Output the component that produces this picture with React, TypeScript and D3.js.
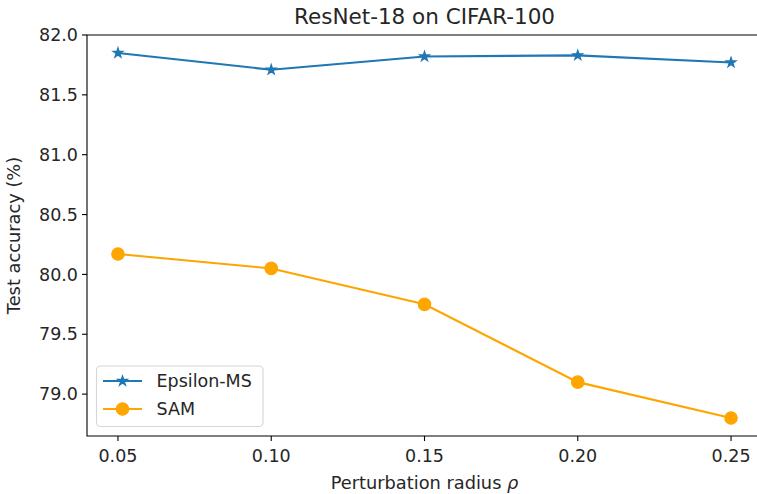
import React from 'react';
import * as d3 from 'd3';

const radii = [0.05, 0.1, 0.15, 0.2, 0.25];
const epsilonMS = [81.85, 81.71, 81.82, 81.83, 81.77];
const sam = [80.17, 80.05, 79.75, 79.1, 78.8];
const xTicks = [0.05, 0.1, 0.15, 0.2, 0.25];
const yTicks = [79.0, 79.5, 80.0, 80.5, 81.0, 81.5, 82.0];

const W = 757;
const H = 494;
const left = 87;
const right = 762;
const top = 35;
const bottom = 436;
const FONT = "'DejaVu Sans', sans-serif";
const BLUE = '#1f77b4';
const ORANGE = '#ffa500';

export default function App() {
  const x = d3.scaleLinear().domain([0.0399, 0.2601]).range([left, right]);
  const y = d3.scaleLinear().domain([78.65, 82.0]).range([bottom, top]);

  const line = d3.line<number>()
    .x((_, i) => x(radii[i]))
    .y(d => y(d));

  const star = d3.symbol().type(d3.symbolStar).size(28)();

  return (
    <svg width={W} height={H} style={{ position: 'fixed', left: 0, top: 0, background: '#fff' }}
      fontFamily={FONT}>
      <rect width={W} height={H} fill="#fff" />
      <text x={(left + right) / 2} y={24} textAnchor="middle" fontSize={21.5} fill="#262626">
        ResNet-18 on CIFAR-100
      </text>

      {/* series */}
      <path d={line(epsilonMS) || ''} fill="none" stroke={BLUE} strokeWidth={2.1} />
      {epsilonMS.map((v, i) => (
        <path key={'e' + i} d={star} transform={`translate(${x(radii[i])},${y(v)})`}
          fill={BLUE} stroke={BLUE} strokeWidth={1.3} />
      ))}
      <path d={line(sam) || ''} fill="none" stroke={ORANGE} strokeWidth={2.1} />
      {sam.map((v, i) => (
        <circle key={'s' + i} cx={x(radii[i])} cy={y(v)} r={6.2} fill={ORANGE} stroke={ORANGE} strokeWidth={1.2} />
      ))}

      {/* spines */}
      <path d={`M${left},${top}H${right}V${bottom}H${left}Z`} fill="none" stroke="#000" strokeWidth={1.1} />

      {/* x axis */}
      {xTicks.map(t => (
        <g key={'x' + t} transform={`translate(${x(t)},${bottom})`}>
          <line y1={0} y2={5} stroke="#000" strokeWidth={1.1} />
          <text y={25.5} textAnchor="middle" fontSize={17.5} fill="#262626">{t.toFixed(2)}</text>
        </g>
      ))}
      <text x={(left + right) / 2} y={489} textAnchor="middle" fontSize={17.8} fill="#262626">
        Perturbation radius <tspan fontStyle="italic">ρ</tspan>
      </text>

      {/* y axis */}
      {yTicks.map(t => (
        <g key={'y' + t} transform={`translate(${left},${y(t)})`}>
          <line x1={-5} x2={0} stroke="#000" strokeWidth={1.1} />
          <text x={-9} dy="0.35em" textAnchor="end" fontSize={17.5} fill="#262626">{t.toFixed(1)}</text>
        </g>
      ))}
      <text transform={`translate(20,${(top + bottom) / 2}) rotate(-90)`} textAnchor="middle"
        fontSize={17.8} fill="#262626">
        Test accuracy (%)
      </text>

      {/* legend */}
      <g>
        <rect x={96.5} y={366} width={166.5} height={60.5} rx={4} fill="#fff" fillOpacity={0.8}
          stroke="#d6d6d6" strokeWidth={1.1} />
        <line x1={103} x2={142} y1={381} y2={381} stroke={BLUE} strokeWidth={2.1} />
        <path d={star} transform="translate(122.5,381)" fill={BLUE} stroke={BLUE} strokeWidth={1.3} />
        <text x={156.5} y={381} dy="0.35em" fontSize={17.5} fill="#262626">Epsilon-MS</text>
        <line x1={103} x2={142} y1={409} y2={409} stroke={ORANGE} strokeWidth={2.1} />
        <circle cx={122.5} cy={409} r={6.2} fill={ORANGE} stroke={ORANGE} strokeWidth={1.2} />
        <text x={156.5} y={409} dy="0.35em" fontSize={17.5} fill="#262626">SAM</text>
      </g>
    </svg>
  );
}
